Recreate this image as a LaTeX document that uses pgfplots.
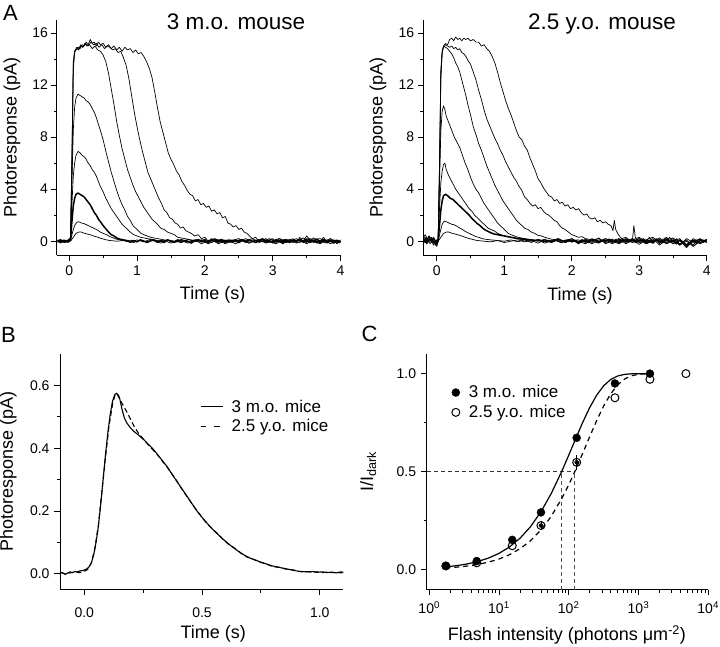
\documentclass[border=0pt]{standalone}
\usepackage{pgfplots}
\pgfplotsset{compat=1.18}
\usepackage{fontspec}
\setmainfont{Liberation Sans}
\newcommand\tickfont{\fontsize{14}{16}\selectfont}
\newcommand\labfont{\fontsize{18}{21}\selectfont}
\newcommand\legfont{\fontsize{17}{20}\selectfont}
\newcommand\titfont{\fontsize{22.5}{26}\selectfont}
\newcommand\letfont{\fontsize{22}{26}\selectfont}
\pgfplotsset{
  panel/.style={scale only axis, axis lines=left, axis line style={-, line width=1pt},
    tick align=outside, major tick length=5.5pt, minor tick length=3pt,
    tick style={black, line width=0.9pt}, minor tick style={black, line width=0.8pt},
    tick label style={font=\tickfont},
    /pgf/number format/assume math mode=true},
  trace/.style={black, line width=0.7pt, line join=round},
  btrace/.style={black, line width=1.5pt, line join=round},
}
\begin{document}
\begin{tikzpicture}
\useasboundingbox (0pt,0pt) rectangle (720pt,646pt);
% ---------------- A left ----------------
\begin{axis}[panel, at={(57pt,390.5pt)}, anchor=south west, width=283.5pt, height=235.5pt,
  xmin=-0.18, xmax=4, ymin=-1.1, ymax=17,
  xtick={0,1,2,3,4}, minor x tick num=1, ytick={0,4,8,12,16}, minor y tick num=1,
  xticklabel style={yshift=-1pt},
  every axis x label/.style={at={(axis description cs:0.549,-0.166)}, anchor=center, font=\labfont},
  every axis y label/.style={at={(axis description cs:-0.159,0.5)}, anchor=center, rotate=90, font=\labfont},
  xlabel={Time (s)}, ylabel={Photoresponse (pA)}]
\addplot[trace] coordinates {(-0.17,0.1)(-0.13,-0.15)(-0.09,0.05)(-0.05,-0.1)(-0.01,0.1)(0.02,0.3)(0.04,6)(0.06,13.5)(0.08,14.6)(0.1,14.7)(0.13,14.9)(0.16,14.8)(0.19,15.1)(0.22,15.0)(0.25,15.3)(0.28,15.1)(0.31,15.5)(0.34,15.2)(0.37,15.3)(0.40,15.0)(0.43,15.3)(0.46,15.1)(0.5,15.2)(0.54,14.9)(0.58,15.1)(0.62,14.8)(0.66,15.0)(0.7,14.7)(0.74,14.9)(0.78,14.6)(0.82,14.9)(0.86,14.7)(0.9,14.8)(0.94,14.5)(0.98,14.7)(1.02,14.4)(1.06,14.5)(1.1,14.2)(1.14,13.8)(1.18,13.3)(1.22,12.6)(1.26,11.5)(1.3,10.3)(1.34,9.2)(1.38,8.4)(1.42,7.6)(1.46,6.8)(1.5,6.3)(1.54,5.9)(1.58,5.4)(1.62,5.1)(1.66,4.6)(1.7,4.3)(1.74,3.9)(1.78,3.6)(1.82,3.5)(1.86,3.1)(1.9,3.2)(1.94,2.8)(1.98,2.9)(2.02,2.6)(2.06,2.7)(2.1,2.3)(2.14,2.4)(2.18,2.1)(2.22,2.2)(2.26,1.8)(2.3,1.9)(2.34,1.4)(2.38,1.3)(2.42,1.1)(2.46,1.2)(2.5,0.9)(2.54,1.0)(2.58,0.7)(2.62,0.6)(2.66,0.4)(2.7,0.2)(2.75,0.3)(2.8,0.0)(2.85,0.2)(2.9,-0.1)(2.95,0.1)(3.0,0.2)(3.05,-0.1)(3.1,0.1)(3.15,-0.2)(3.2,0.1)(3.25,0.0)(3.3,0.2)(3.35,-0.1)(3.4,0.3)(3.45,0.0)(3.5,0.4)(3.55,0.1)(3.6,-0.1)(3.65,0.2)(3.7,0.0)(3.75,0.3)(3.8,-0.1)(3.85,0.2)(3.9,0.0)(3.95,-0.2)(4.0,0.1)};
\addplot[trace] coordinates {(-0.17,-0.05)(-0.13,0.1)(-0.09,-0.1)(-0.05,0.05)(-0.01,-0.05)(0.02,0.2)(0.04,5.5)(0.06,13.2)(0.08,14.5)(0.11,14.8)(0.14,14.7)(0.17,15.0)(0.2,14.9)(0.24,15.2)(0.28,15.0)(0.32,15.3)(0.36,15.1)(0.4,15.2)(0.44,14.9)(0.48,15.1)(0.52,14.8)(0.56,15.0)(0.6,14.9)(0.64,14.7)(0.68,14.8)(0.72,14.5)(0.76,14.6)(0.8,14.1)(0.84,13.5)(0.88,12.5)(0.92,11.2)(0.96,9.9)(1.0,8.8)(1.04,7.8)(1.08,6.9)(1.12,6.1)(1.16,5.3)(1.2,4.8)(1.24,4.3)(1.28,3.8)(1.32,3.3)(1.36,2.9)(1.4,2.4)(1.44,2.2)(1.48,1.8)(1.52,1.7)(1.56,1.4)(1.6,1.3)(1.64,1.0)(1.68,1.1)(1.72,0.8)(1.76,0.7)(1.8,0.6)(1.85,0.4)(1.9,0.5)(1.95,0.2)(2.0,0.3)(2.05,0.0)(2.1,0.2)(2.2,-0.1)(2.3,0.1)(2.4,-0.1)(2.5,0.1)(2.6,0.0)(2.7,0.2)(2.8,-0.1)(2.9,0.1)(3.0,-0.1)(3.1,0.2)(3.2,-0.1)(3.3,0.1)(3.4,-0.1)(3.5,0.2)(3.6,0.0)(3.7,-0.2)(3.8,0.1)(3.9,-0.1)(4.0,0.0)};
\addplot[trace] coordinates {(-0.17,0.05)(-0.13,-0.1)(-0.09,0.1)(-0.05,-0.05)(-0.01,0.05)(0.02,0.3)(0.04,6.5)(0.06,13.8)(0.08,14.6)(0.11,14.9)(0.14,14.8)(0.17,15.1)(0.2,14.9)(0.23,15.2)(0.26,15.0)(0.3,15.1)(0.34,14.8)(0.38,15.0)(0.42,14.7)(0.46,14.6)(0.5,14.3)(0.54,13.8)(0.58,12.9)(0.62,11.7)(0.66,10.5)(0.7,9.2)(0.74,8.1)(0.78,7.1)(0.82,6.3)(0.86,5.5)(0.9,4.9)(0.94,4.3)(0.98,3.8)(1.02,3.4)(1.06,3.0)(1.1,2.6)(1.14,2.3)(1.18,2.0)(1.22,1.7)(1.26,1.5)(1.3,1.3)(1.35,1.0)(1.4,0.9)(1.45,0.7)(1.5,0.6)(1.55,0.5)(1.6,0.3)(1.7,0.2)(1.8,0.1)(1.9,0.0)(2.0,0.15)(2.1,-0.1)(2.2,0.1)(2.3,-0.2)(2.4,0.05)(2.5,0.2)(2.6,-0.1)(2.7,0.1)(2.8,-0.05)(2.9,0.2)(3.0,-0.15)(3.1,0.05)(3.2,0.15)(3.3,-0.1)(3.4,0.1)(3.5,-0.2)(3.6,0.1)(3.7,0.2)(3.8,-0.1)(3.9,0.05)(4.0,-0.15)};
\addplot[trace] coordinates {(-0.17,-0.1)(-0.12,0.1)(-0.07,-0.05)(-0.02,0.1)(0.02,0.2)(0.04,4.5)(0.06,8.5)(0.08,10.3)(0.1,11.0)(0.13,11.3)(0.16,11.2)(0.19,11.1)(0.22,11.0)(0.25,10.8)(0.28,10.7)(0.31,10.5)(0.34,10.2)(0.37,9.9)(0.4,9.5)(0.43,9.0)(0.46,8.5)(0.5,7.8)(0.54,6.9)(0.58,6.1)(0.62,5.3)(0.66,4.6)(0.7,3.9)(0.74,3.3)(0.78,2.8)(0.82,2.4)(0.86,1.9)(0.9,1.6)(0.94,1.2)(0.98,1.0)(1.02,0.8)(1.06,0.6)(1.1,0.5)(1.15,0.4)(1.2,0.3)(1.3,0.2)(1.4,0.1)(1.5,0.0)(1.55,-0.1)(1.65,0.15)(1.75,-0.05)(1.85,0.1)(1.95,-0.2)(2.05,0.05)(2.15,0.2)(2.25,-0.1)(2.35,0.1)(2.45,-0.05)(2.55,0.15)(2.65,-0.15)(2.75,0.05)(2.85,0.2)(2.95,-0.1)(3.05,0.1)(3.15,-0.2)(3.25,0.15)(3.35,-0.05)(3.45,0.25)(3.55,-0.1)(3.65,0.1)(3.75,-0.05)(3.85,0.2)(3.95,-0.1)(4.0,0.0)};
\addplot[trace] coordinates {(-0.17,0.1)(-0.12,-0.05)(-0.07,0.1)(-0.02,-0.1)(0.02,0.2)(0.04,2.8)(0.06,5.0)(0.08,6.0)(0.1,6.6)(0.13,6.9)(0.16,6.8)(0.19,6.6)(0.22,6.5)(0.25,6.3)(0.28,6.0)(0.31,5.8)(0.34,5.5)(0.37,5.3)(0.4,5.0)(0.43,4.6)(0.46,4.2)(0.5,3.8)(0.54,3.3)(0.58,2.9)(0.62,2.5)(0.66,2.2)(0.7,1.9)(0.74,1.6)(0.78,1.3)(0.82,1.1)(0.86,0.9)(0.9,0.7)(0.95,0.5)(1.0,0.4)(1.05,0.3)(1.15,0.2)(1.25,0.1)(1.35,0.0)(1.45,0.1)(1.55,-0.1)(1.65,0.05)(1.75,-0.15)(1.85,0.1)(1.95,0.0)(2.05,-0.1)(2.15,0.15)(2.25,-0.05)(2.35,0.1)(2.45,-0.2)(2.55,0.05)(2.65,0.1)(2.75,-0.1)(2.85,0.15)(2.95,0.0)(3.05,-0.2)(3.15,0.1)(3.25,-0.05)(3.35,0.2)(3.45,-0.1)(3.55,0.05)(3.65,-0.15)(3.75,0.15)(3.85,-0.05)(3.95,0.1)(4.0,-0.1)};
\addplot[btrace] coordinates {(-0.17,0.0)(-0.13,0.1)(-0.09,-0.05)(-0.05,0.05)(-0.01,-0.05)(0.02,0.1)(0.04,1.5)(0.06,2.7)(0.08,3.3)(0.1,3.6)(0.13,3.7)(0.16,3.6)(0.19,3.5)(0.22,3.4)(0.25,3.2)(0.28,3.0)(0.31,2.8)(0.34,2.5)(0.37,2.2)(0.4,2.0)(0.43,1.7)(0.46,1.5)(0.5,1.2)(0.54,0.95)(0.58,0.7)(0.62,0.5)(0.66,0.4)(0.7,0.25)(0.75,0.15)(0.8,0.1)(0.9,0.0)(0.95,0.05)(1.0,-0.05)(1.05,0.1)(1.1,0.0)(1.15,-0.1)(1.2,0.05)(1.25,0.1)(1.3,-0.05)(1.35,0.05)(1.4,-0.1)(1.45,0.1)(1.5,0.0)(1.55,-0.05)(1.6,0.1)(1.65,-0.1)(1.7,0.05)(1.75,0.0)(1.8,-0.15)(1.85,0.05)(1.9,0.1)(1.95,-0.05)(2.0,0.05)(2.05,-0.1)(2.1,0.1)(2.15,0.0)(2.2,-0.05)(2.25,0.1)(2.3,-0.1)(2.35,0.05)(2.4,0.0)(2.45,0.1)(2.5,-0.1)(2.55,0.05)(2.6,-0.05)(2.65,0.1)(2.7,0.0)(2.75,-0.1)(2.8,0.05)(2.85,0.15)(2.9,-0.05)(2.95,0.05)(3.0,-0.1)(3.05,0.1)(3.1,0.0)(3.15,-0.05)(3.2,0.1)(3.25,-0.1)(3.3,0.05)(3.35,0.0)(3.4,0.15)(3.45,-0.05)(3.5,0.1)(3.55,-0.1)(3.6,0.05)(3.65,0.0)(3.7,-0.1)(3.75,0.1)(3.8,-0.05)(3.85,0.05)(3.9,-0.15)(3.95,0.05)(4.0,-0.05)};
\addplot[trace] coordinates {(-0.17,0.05)(-0.12,-0.1)(-0.07,0.05)(-0.02,0.0)(0.02,0.05)(0.05,0.7)(0.08,1.2)(0.11,1.45)(0.14,1.5)(0.18,1.4)(0.22,1.35)(0.26,1.25)(0.3,1.15)(0.34,1.05)(0.38,0.95)(0.42,0.85)(0.46,0.7)(0.5,0.6)(0.55,0.5)(0.6,0.35)(0.65,0.25)(0.7,0.15)(0.75,0.1)(0.85,0.0)(0.95,-0.1)(1.05,0.1)(1.15,-0.05)(1.25,0.05)(1.35,-0.15)(1.45,0.1)(1.55,0.0)(1.65,-0.1)(1.75,0.15)(1.85,-0.05)(1.95,0.1)(2.05,-0.2)(2.15,0.05)(2.25,0.15)(2.35,-0.1)(2.45,0.0)(2.55,0.1)(2.65,-0.15)(2.75,0.1)(2.85,-0.05)(2.95,0.2)(3.05,0.0)(3.15,-0.1)(3.25,0.1)(3.35,-0.15)(3.45,0.05)(3.55,0.2)(3.65,-0.05)(3.75,0.1)(3.85,-0.2)(3.95,0.05)(4.0,0.0)};
\addplot[trace] coordinates {(-0.17,-0.05)(-0.12,0.05)(-0.07,-0.1)(-0.02,0.05)(0.02,0.0)(0.06,0.3)(0.1,0.6)(0.14,0.7)(0.18,0.7)(0.22,0.62)(0.26,0.56)(0.31,0.5)(0.36,0.4)(0.41,0.32)(0.45,0.25)(0.5,0.17)(0.55,0.1)(0.6,0.05)(0.7,0.0)(0.8,0.05)(0.9,-0.1)(1.0,0.1)(1.1,-0.05)(1.2,0.15)(1.3,-0.1)(1.4,0.05)(1.5,-0.15)(1.6,0.1)(1.7,0.0)(1.8,-0.1)(1.9,0.15)(2.0,-0.05)(2.1,0.1)(2.2,-0.2)(2.3,0.05)(2.4,0.1)(2.5,-0.1)(2.6,0.2)(2.7,-0.05)(2.8,0.1)(2.9,-0.15)(3.0,0.05)(3.1,0.2)(3.2,-0.1)(3.3,0.0)(3.4,0.15)(3.5,-0.1)(3.6,0.25)(3.7,0.0)(3.8,-0.15)(3.9,0.1)(4.0,-0.05)};
\end{axis}
% ---------------- A right ----------------
\begin{axis}[panel, at={(423.3pt,390.5pt)}, anchor=south west, width=283.5pt, height=235.5pt,
  xmin=-0.2, xmax=4, ymin=-1.1, ymax=17,
  xtick={0,1,2,3,4}, minor x tick num=1, ytick={0,4,8,12,16}, minor y tick num=1,
  xticklabel style={yshift=-1pt},
  every axis x label/.style={at={(axis description cs:0.553,-0.173)}, anchor=center, font=\labfont},
  every axis y label/.style={at={(axis description cs:-0.160,0.5)}, anchor=center, rotate=90, font=\labfont},
  xlabel={Time (s)}, ylabel={Photoresponse (pA)}]
\addplot[trace] coordinates {(-0.2,0.3)(-0.17,0.5)(-0.14,0.1)(-0.11,0.4)(-0.08,-0.1)(-0.05,0.2)(-0.02,-0.3)(0.0,-0.4)(0.02,0.0)(0.04,5)(0.06,12.5)(0.08,14.6)(0.1,15.0)(0.13,15.2)(0.16,15.1)(0.19,15.5)(0.22,15.6)(0.25,15.4)(0.28,15.7)(0.31,15.5)(0.34,15.6)(0.37,15.4)(0.4,15.6)(0.43,15.5)(0.46,15.6)(0.5,15.4)(0.54,15.5)(0.58,15.3)(0.62,15.3)(0.66,15.0)(0.7,15.1)(0.74,14.8)(0.78,14.6)(0.82,14.2)(0.86,13.7)(0.9,13.0)(0.94,12.2)(0.98,11.5)(1.02,10.8)(1.06,10.2)(1.1,9.7)(1.14,9.1)(1.18,8.5)(1.22,8.0)(1.26,7.8)(1.3,7.3)(1.34,7.0)(1.38,6.4)(1.42,5.9)(1.46,5.4)(1.5,4.8)(1.54,4.5)(1.58,4.1)(1.62,3.8)(1.66,3.5)(1.7,3.4)(1.74,3.1)(1.78,3.2)(1.82,2.9)(1.86,3.0)(1.9,2.7)(1.94,2.8)(1.98,2.5)(2.02,2.6)(2.06,2.4)(2.1,2.5)(2.14,2.2)(2.18,2.0)(2.22,2.1)(2.26,1.8)(2.3,1.7)(2.34,1.8)(2.38,1.5)(2.42,1.6)(2.46,1.4)(2.5,1.5)(2.54,1.3)(2.58,1.2)(2.61,0.8)(2.63,1.6)(2.65,0.9)(2.68,0.6)(2.72,0.3)(2.76,0.1)(2.8,0.2)(2.85,0.0)(2.9,0.2)(2.92,1.2)(2.94,0.3)(2.98,0.1)(3.02,-0.1)(3.06,0.2)(3.1,0.0)(3.15,0.3)(3.2,-0.1)(3.25,0.2)(3.3,-0.2)(3.35,0.1)(3.4,0.0)(3.45,0.3)(3.5,-0.1)(3.55,0.2)(3.6,-0.3)(3.65,0.0)(3.7,-0.4)(3.75,-0.1)(3.8,-0.3)(3.85,0.1)(3.9,-0.2)(3.95,0.1)(4.0,-0.1)};
\addplot[trace] coordinates {(-0.2,-0.1)(-0.16,0.3)(-0.12,0.0)(-0.08,0.3)(-0.04,-0.2)(0.0,-0.3)(0.02,0.1)(0.04,5.5)(0.06,12.8)(0.08,14.5)(0.1,14.9)(0.13,15.1)(0.16,15.0)(0.19,14.9)(0.22,15.0)(0.25,14.8)(0.28,14.9)(0.31,14.7)(0.34,14.8)(0.37,14.5)(0.4,14.4)(0.43,14.2)(0.46,13.9)(0.5,13.6)(0.54,13.0)(0.58,12.4)(0.62,11.6)(0.66,10.9)(0.7,10.1)(0.74,9.4)(0.78,8.9)(0.82,8.4)(0.86,7.9)(0.9,7.5)(0.94,7.0)(0.98,6.6)(1.02,6.1)(1.06,5.7)(1.1,5.3)(1.14,4.9)(1.18,4.6)(1.22,4.2)(1.26,3.9)(1.3,3.4)(1.34,3.2)(1.38,2.9)(1.42,2.7)(1.46,2.8)(1.5,2.5)(1.54,2.6)(1.58,2.3)(1.62,2.1)(1.66,2.0)(1.7,1.8)(1.74,1.6)(1.78,1.5)(1.82,1.2)(1.86,1.0)(1.9,0.9)(1.95,0.7)(2.0,0.5)(2.05,0.4)(2.1,0.3)(2.15,0.35)(2.2,0.2)(2.3,0.1)(2.4,0.0)(2.5,0.2)(2.6,-0.1)(2.7,0.15)(2.8,-0.2)(2.9,0.1)(3.0,0.3)(3.1,-0.1)(3.2,0.2)(3.3,-0.3)(3.4,0.1)(3.5,0.25)(3.6,-0.2)(3.7,0.1)(3.8,-0.4)(3.9,0.0)(4.0,0.1)};
\addplot[trace] coordinates {(-0.2,0.2)(-0.16,-0.1)(-0.12,0.4)(-0.08,0.0)(-0.04,0.2)(0.0,-0.2)(0.02,0.2)(0.04,6)(0.06,13.2)(0.08,14.6)(0.1,15.0)(0.13,14.9)(0.16,14.8)(0.19,14.6)(0.22,14.4)(0.25,14.1)(0.28,13.7)(0.31,13.4)(0.34,13.0)(0.37,12.4)(0.4,11.8)(0.43,11.2)(0.46,10.5)(0.5,9.7)(0.54,8.8)(0.58,8.2)(0.62,7.5)(0.66,7.0)(0.7,6.4)(0.74,5.8)(0.78,5.3)(0.82,4.8)(0.86,4.3)(0.9,3.9)(0.94,3.5)(0.98,3.1)(1.02,2.8)(1.06,2.5)(1.1,2.2)(1.14,1.9)(1.18,1.6)(1.22,1.4)(1.26,1.2)(1.3,1.0)(1.35,0.9)(1.4,0.7)(1.45,0.6)(1.5,0.45)(1.55,0.4)(1.6,0.3)(1.7,0.15)(1.8,0.1)(1.9,0.0)(2.0,0.2)(2.1,-0.15)(2.2,0.1)(2.3,-0.1)(2.4,0.25)(2.5,-0.2)(2.6,0.05)(2.7,0.2)(2.8,-0.1)(2.9,0.15)(3.0,-0.25)(3.1,0.1)(3.2,0.3)(3.3,-0.1)(3.4,0.2)(3.5,-0.2)(3.6,0.05)(3.7,-0.5)(3.8,0.1)(3.9,-0.2)(4.0,0.05)};
\addplot[trace] coordinates {(-0.2,0.0)(-0.15,0.3)(-0.1,-0.2)(-0.05,0.2)(0.0,-0.1)(0.02,0.1)(0.04,4.5)(0.06,8.5)(0.08,10.0)(0.1,10.4)(0.12,10.1)(0.14,9.6)(0.17,9.2)(0.2,8.8)(0.23,8.4)(0.26,8.0)(0.3,7.6)(0.34,7.2)(0.38,6.6)(0.42,6.0)(0.46,5.5)(0.5,4.9)(0.54,4.4)(0.58,4.0)(0.62,3.7)(0.66,3.3)(0.7,2.9)(0.74,2.6)(0.78,2.3)(0.82,2.0)(0.86,1.7)(0.9,1.4)(0.94,1.2)(0.98,1.0)(1.02,0.8)(1.06,0.6)(1.1,0.5)(1.15,0.4)(1.2,0.3)(1.3,0.2)(1.4,0.1)(1.5,0.0)(1.6,0.15)(1.7,-0.1)(1.8,0.2)(1.9,-0.05)(2.0,0.1)(2.1,-0.2)(2.2,0.15)(2.3,0.0)(2.4,-0.15)(2.5,0.2)(2.6,-0.05)(2.7,0.1)(2.8,0.3)(2.9,-0.1)(3.0,0.1)(3.1,-0.2)(3.2,0.0)(3.3,0.25)(3.4,-0.15)(3.5,0.1)(3.6,-0.3)(3.7,0.2)(3.8,-0.1)(3.9,0.2)(4.0,-0.1)};
\addplot[trace] coordinates {(-0.2,0.4)(-0.15,0.0)(-0.1,0.3)(-0.05,-0.3)(0.0,0.1)(0.02,0.1)(0.04,2.5)(0.06,4.5)(0.08,5.4)(0.1,5.9)(0.12,6.0)(0.14,5.5)(0.17,5.1)(0.2,4.8)(0.24,4.4)(0.28,4.0)(0.32,3.7)(0.36,3.4)(0.4,3.1)(0.44,2.8)(0.48,2.5)(0.52,2.3)(0.56,2.0)(0.6,1.8)(0.64,1.6)(0.68,1.4)(0.72,1.2)(0.76,1.0)(0.8,0.9)(0.85,0.8)(0.9,0.6)(0.95,0.5)(1.0,0.4)(1.05,0.35)(1.1,0.3)(1.2,0.2)(1.3,0.1)(1.4,0.0)(1.5,0.1)(1.6,-0.15)(1.7,0.05)(1.8,0.2)(1.9,-0.1)(2.0,0.1)(2.1,0.0)(2.2,-0.2)(2.3,0.1)(2.4,0.2)(2.5,-0.1)(2.6,0.0)(2.7,-0.2)(2.8,0.15)(2.9,0.0)(3.0,0.2)(3.1,-0.15)(3.2,0.1)(3.3,-0.05)(3.4,0.3)(3.5,-0.2)(3.6,0.1)(3.7,-0.3)(3.8,0.2)(3.9,-0.1)(4.0,0.15)};
\addplot[btrace] coordinates {(-0.2,0.1)(-0.15,-0.1)(-0.1,0.2)(-0.05,0.0)(0.0,-0.2)(0.02,0.05)(0.04,1.2)(0.06,2.4)(0.08,3.1)(0.1,3.5)(0.13,3.6)(0.16,3.5)(0.2,3.3)(0.24,3.2)(0.28,3.0)(0.32,2.8)(0.36,2.6)(0.4,2.4)(0.44,2.2)(0.48,2.0)(0.52,1.75)(0.56,1.55)(0.6,1.35)(0.64,1.2)(0.68,1.0)(0.72,0.85)(0.76,0.75)(0.8,0.65)(0.85,0.55)(0.9,0.5)(0.95,0.45)(1.0,0.4)(1.05,0.35)(1.1,0.3)(1.15,0.25)(1.2,0.2)(1.3,0.15)(1.4,0.1)(1.5,0.05)(1.6,0.0)(1.65,0.05)(1.7,-0.05)(1.75,0.1)(1.8,0.0)(1.85,-0.1)(1.9,0.05)(1.95,0.1)(2.0,-0.05)(2.05,0.05)(2.1,-0.1)(2.15,0.1)(2.2,0.0)(2.25,-0.1)(2.3,0.1)(2.35,0.05)(2.4,-0.1)(2.45,0.05)(2.5,0.0)(2.55,0.15)(2.6,-0.05)(2.65,0.05)(2.7,-0.1)(2.75,0.1)(2.8,0.0)(2.85,-0.05)(2.9,0.1)(2.95,-0.1)(3.0,0.05)(3.05,0.15)(3.1,-0.05)(3.15,0.05)(3.2,-0.15)(3.25,0.1)(3.3,0.0)(3.35,-0.1)(3.4,0.15)(3.45,-0.05)(3.5,0.05)(3.55,-0.2)(3.6,0.1)(3.65,-0.1)(3.7,-0.3)(3.75,-0.1)(3.8,0.05)(3.85,-0.15)(3.9,0.1)(3.95,-0.05)(4.0,0.05)};
\addplot[trace] coordinates {(-0.2,-0.2)(-0.15,0.2)(-0.1,0.0)(-0.05,0.3)(0.0,-0.1)(0.02,0.0)(0.05,0.7)(0.08,1.3)(0.11,1.55)(0.14,1.5)(0.18,1.4)(0.22,1.3)(0.26,1.25)(0.3,1.15)(0.34,1.0)(0.38,0.9)(0.42,0.75)(0.46,0.65)(0.5,0.55)(0.54,0.45)(0.58,0.35)(0.62,0.3)(0.67,0.2)(0.72,0.15)(0.8,0.1)(0.9,0.05)(1.0,0.0)(1.1,0.1)(1.2,-0.05)(1.3,0.1)(1.4,-0.1)(1.5,0.15)(1.6,0.0)(1.7,-0.1)(1.8,0.1)(1.9,-0.05)(2.0,0.2)(2.1,-0.1)(2.2,0.05)(2.3,-0.2)(2.4,0.1)(2.5,0.0)(2.6,0.15)(2.7,-0.15)(2.8,0.05)(2.9,0.2)(3.0,-0.1)(3.1,0.1)(3.2,-0.05)(3.3,0.15)(3.4,-0.2)(3.5,0.0)(3.6,0.2)(3.7,-0.4)(3.8,0.0)(3.9,0.15)(4.0,-0.1)};
\addplot[trace] coordinates {(-0.2,0.1)(-0.15,-0.2)(-0.1,0.1)(-0.05,-0.1)(0.0,0.1)(0.02,0.0)(0.06,0.3)(0.1,0.6)(0.14,0.7)(0.18,0.7)(0.22,0.62)(0.27,0.55)(0.32,0.48)(0.37,0.4)(0.42,0.3)(0.47,0.22)(0.52,0.15)(0.57,0.08)(0.62,0.04)(0.7,0.0)(0.8,-0.05)(0.9,0.05)(1.0,-0.1)(1.1,0.0)(1.2,0.1)(1.3,-0.05)(1.4,0.05)(1.5,-0.15)(1.6,0.1)(1.7,0.0)(1.8,0.15)(1.9,-0.1)(2.0,0.05)(2.1,0.1)(2.2,-0.1)(2.3,0.2)(2.4,-0.05)(2.5,0.1)(2.6,-0.2)(2.7,0.05)(2.8,0.1)(2.9,-0.1)(3.0,0.2)(3.1,-0.2)(3.2,0.05)(3.3,0.1)(3.4,-0.1)(3.5,0.2)(3.6,-0.3)(3.7,0.0)(3.8,-0.4)(3.9,0.1)(4.0,0.0)};
\end{axis}
% ---------------- B ----------------
\begin{axis}[panel, at={(60pt,56.5pt)}, anchor=south west, width=283.3pt, height=235.5pt,
  xmin=-0.103, xmax=1.1, ymin=-0.05, ymax=0.7,
  xtick={0,0.5,1}, minor x tick num=1, ytick={0,0.2,0.4,0.6}, minor y tick num=1,
  xticklabel style={yshift=-9pt}, yticklabel style={xshift=-1.5pt},
  xticklabel={\pgfmathprintnumber[fixed,fixed zerofill,precision=1]{\tick}},
  yticklabel={\pgfmathprintnumber[fixed,fixed zerofill,precision=1]{\tick}},
  every axis x label/.style={at={(axis description cs:0.541,-0.187)}, anchor=center, font=\labfont},
  every axis y label/.style={at={(axis description cs:-0.1825,0.5)}, anchor=center, rotate=90, font=\labfont},
  xlabel={Time (s)}, ylabel={Photoresponse (pA)},
  legend style={at={(axis description cs:0.494,0.815)}, anchor=north west, draw=none, fill=none, font=\legfont, row sep=2pt, inner sep=0pt},
  legend cell align=left,
  legend image code/.code={\draw[#1] (0pt,0pt) -- (22pt,0pt); \path[draw=none] (0pt,0pt) -- (29pt,0pt);}]
\addplot[black, line width=1.1pt] coordinates {(-0.1,0.005)(-0.09,0.002)(-0.08,-0.002)(-0.07,0.003)(-0.06,0.006)(-0.05,0.004)(-0.04,0.007)(-0.03,0.006)(-0.02,0.009)(-0.01,0.01)(0.0,0.012)(0.01,0.015)(0.02,0.022)(0.03,0.034)(0.04,0.06)(0.05,0.1)(0.06,0.151)(0.07,0.222)(0.08,0.3)(0.09,0.378)(0.1,0.448)(0.11,0.507)(0.12,0.55)(0.13,0.571)(0.137,0.575)(0.144,0.57)(0.15,0.56)(0.16,0.525)(0.17,0.497)(0.18,0.481)(0.195,0.466)(0.21,0.454)(0.23,0.442)(0.25,0.429)(0.27,0.414)(0.29,0.399)(0.31,0.381)(0.33,0.362)(0.35,0.343)(0.37,0.32)(0.39,0.298)(0.41,0.276)(0.43,0.254)(0.45,0.232)(0.47,0.209)(0.49,0.189)(0.51,0.171)(0.53,0.154)(0.55,0.138)(0.57,0.124)(0.59,0.11)(0.61,0.097)(0.63,0.085)(0.65,0.074)(0.67,0.064)(0.69,0.055)(0.71,0.048)(0.73,0.043)(0.75,0.037)(0.77,0.032)(0.79,0.027)(0.81,0.023)(0.83,0.02)(0.85,0.017)(0.87,0.014)(0.89,0.011)(0.91,0.008)(0.93,0.007)(0.95,0.006)(0.97,0.007)(0.99,0.005)(1.01,0.006)(1.03,0.004)(1.05,0.005)(1.07,0.003)(1.09,0.006)(1.1,0.005)};
\addlegendentry{3 m.o. mice}
\addplot[black, line width=1.1pt, dash pattern=on 5pt off 3pt, legend image post style={dash pattern=on 5.5pt off 8pt}] coordinates {(-0.1,0.004)(-0.08,0.0)(-0.06,0.003)(-0.04,0.005)(-0.02,0.004)(0.0,0.008)(0.015,0.014)(0.03,0.035)(0.045,0.08)(0.06,0.155)(0.075,0.262)(0.09,0.37)(0.105,0.47)(0.12,0.54)(0.13,0.568)(0.137,0.574)(0.145,0.565)(0.155,0.55)(0.17,0.53)(0.185,0.51)(0.2,0.487)(0.215,0.465)(0.23,0.448)(0.25,0.43)(0.27,0.412)(0.29,0.396)(0.31,0.38)(0.33,0.36)(0.35,0.342)(0.37,0.321)(0.39,0.299)(0.41,0.275)(0.43,0.253)(0.45,0.231)(0.47,0.21)(0.49,0.19)(0.51,0.17)(0.53,0.153)(0.55,0.139)(0.57,0.125)(0.59,0.109)(0.61,0.096)(0.63,0.086)(0.65,0.075)(0.67,0.063)(0.69,0.054)(0.71,0.049)(0.73,0.042)(0.75,0.036)(0.77,0.033)(0.79,0.026)(0.81,0.022)(0.83,0.021)(0.85,0.016)(0.87,0.013)(0.89,0.012)(0.91,0.008)(0.93,0.006)(0.95,0.007)(0.97,0.005)(0.99,0.006)(1.01,0.004)(1.03,0.005)(1.05,0.004)(1.07,0.005)(1.09,0.003)(1.1,0.004)};
\addlegendentry{2.5 y.o. mice}
\end{axis}
% ---------------- C ----------------
\begin{axis}[panel, xmode=log, at={(426.7pt,56.5pt)}, anchor=south west, width=281.5pt, height=235.5pt,
  xmin=0.92, xmax=10000, ymin=-0.1, ymax=1.1,
  xtick={1,10,100,1000,10000},
  xticklabels={10\textsuperscript{0},10\textsuperscript{1},10\textsuperscript{2},10\textsuperscript{3},10\textsuperscript{4}},
  ytick={0,0.5,1}, minor y tick num=1,
  xticklabel style={yshift=-3pt}, yticklabel style={xshift=-1.5pt},
  yticklabel={\pgfmathprintnumber[fixed,fixed zerofill,precision=1]{\tick}},
  every axis x label/.style={at={(axis description cs:0.498,-0.193)}, anchor=center, font=\labfont},
  every axis y label/.style={at={(axis description cs:-0.208,0.5)}, anchor=center, rotate=90, font=\labfont},
  xlabel={Flash intensity (photons μm\textsuperscript{-2})}, ylabel={I/I\textsubscript{dark}},
  legend style={at={(axis description cs:0.085,0.875)}, anchor=north west, draw=none, fill=none, font=\legfont, row sep=2pt, inner sep=0pt},
  legend cell align=left,
  legend image code/.code={\draw[#1] plot coordinates {(5pt,0pt)}; \path[draw=none] (0pt,0pt) -- (16pt,0pt);}]
\addplot[black!80, line width=0.9pt, dash pattern=on 4pt off 3pt, forget plot] coordinates {(0.92,0.5)(120,0.5)};
\addplot[black!70, line width=0.9pt, dash pattern=on 4pt off 3pt, forget plot] coordinates {(79,-0.1)(79,0.5)};
\addplot[black!70, line width=0.9pt, dash pattern=on 4pt off 3pt, forget plot] coordinates {(120,-0.1)(120,0.5)};
\addplot[black, line width=1.2pt, forget plot] coordinates {(1.7,0.0148)(2.5,0.0217)(3.5,0.0302)(5,0.0429)(7,0.0596)(10,0.084)(14,0.1156)(20,0.161)(28,0.2178)(40,0.296)(56,0.3882)(79,0.5)(100,0.5841)(126,0.6689)(158,0.75)(200,0.8271)(251,0.8895)(316,0.9375)(398,0.9696)(501,0.9877)(631,0.9961)(794,0.9991)(1000,0.9998)(1460,1.0)};
\addplot[black, line width=1.2pt, dash pattern=on 5pt off 4pt, forget plot] coordinates {(1.7,0.0096)(2.5,0.0141)(3.5,0.0197)(5,0.028)(7,0.039)(10,0.0552)(14,0.0765)(20,0.1074)(28,0.1471)(40,0.2033)(56,0.2725)(79,0.3617)(100,0.4335)(122,0.5)(158,0.5925)(200,0.679)(251,0.7598)(316,0.834)(398,0.8958)(501,0.942)(631,0.9723)(794,0.989)(1000,0.9966)(1460,0.9998)};
\addplot[only marks, mark=*, mark size=4pt, black, mark options={fill=black}] coordinates {(1.73,0.02)(4.8,0.045)(15.5,0.153)(40,0.293)(130,0.673)(460,0.95)(1460,1.0)};
\addlegendentry{3 m.o. mice}
\addplot[only marks, mark=o, mark size=4pt, black, mark options={fill=white, line width=1pt}] coordinates {(1.73,0.02)(4.8,0.036)(15.5,0.123)(40,0.226)(130,0.548)(460,0.877)(1460,0.971)(4790,1.0)};
\addlegendentry{2.5 y.o. mice}
\addplot[only marks, mark=none, black, forget plot, error bars/.cd, y dir=both, y explicit, error mark options={mark size=2.5pt, line width=0.9pt}, error bar style={line width=0.9pt}] coordinates {(130,0.548) +- (0,0.025)(40,0.226) +- (0,0.012)};
\end{axis}
% titles and panel letters
\node[font=\titfont] at (236pt,624.3pt) {3 m.o. mouse};
\node[font=\titfont] at (602pt,622pt) {2.5 y.o. mouse};
\node[font=\letfont, inner sep=0pt] at (10.5pt,633pt) {A};
\node[font=\letfont, inner sep=0pt] at (8.5pt,311.5pt) {B};
\node[font=\letfont, inner sep=0pt] at (369.5pt,312.5pt) {C};
\end{tikzpicture}
\end{document}
